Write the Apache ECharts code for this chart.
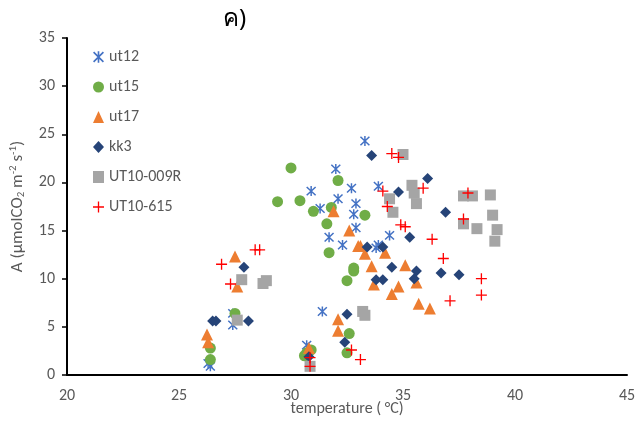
<!DOCTYPE html>
<html>
<head>
<meta charset="utf-8">
<script src="https://cdn.jsdelivr.net/npm/echarts@6/dist/echarts.min.js"></script>
<style>
  html, body { margin: 0; padding: 0; background: #fff; }
  #chart { width: 637px; height: 421px; }
</style>
</head>
<body>
<div id="chart"></div>
<script>
// values: [temperature, A]
const ut12 = [
  [33.3, 24.3], [32.0, 21.4], [33.9, 19.6], [32.7, 19.4], [30.9, 19.1],
  [32.1, 18.3], [32.9, 17.8], [31.3, 17.3], [32.8, 16.7], [32.9, 15.3],
  [31.7, 14.3], [34.4, 14.5], [32.3, 13.5], [33.9, 13.5], [33.8, 13.2],
  [31.4, 6.6], [27.4, 6.4], [27.4, 5.2], [30.7, 3.1], [26.3, 1.2], [26.4, 0.9]
];
const ut15 = [
  [30.0, 21.5], [32.1, 20.2], [29.4, 18.0], [30.4, 18.1], [31.0, 17.0],
  [31.8, 17.4], [31.6, 15.7], [33.3, 16.6], [31.7, 12.7], [32.8, 11.1],
  [32.8, 10.8], [32.5, 9.8], [32.6, 4.3], [32.5, 2.3], [30.7, 2.3],
  [30.9, 2.6], [30.6, 2.0], [26.4, 2.8], [26.4, 1.6], [27.5, 6.4]
];
const ut17 = [
  [31.9, 17.0], [32.6, 15.0], [33.0, 13.4], [33.1, 13.4], [33.3, 12.6],
  [34.2, 12.7], [33.6, 11.3], [35.1, 11.4], [33.7, 9.4], [34.8, 9.2],
  [34.5, 8.4], [35.6, 9.6], [35.7, 7.4], [36.2, 6.9], [32.1, 5.8],
  [32.1, 4.6], [30.8, 2.8], [26.25, 4.2], [26.3, 3.4], [27.5, 12.3], [27.6, 9.2]
];
const kk3 = [
  [33.6, 22.8], [36.1, 20.4], [34.8, 19.0], [36.9, 16.9], [35.3, 14.3],
  [33.4, 13.3], [34.1, 13.3], [34.5, 11.2], [35.6, 10.8], [36.7, 10.6],
  [37.5, 10.4], [35.5, 10.0], [33.8, 9.9], [34.1, 9.9], [32.5, 6.3],
  [32.4, 3.4], [30.8, 1.9], [27.9, 11.2], [26.5, 5.6], [26.65, 5.6], [28.1, 5.6]
];
const ut10009R = [
  [35.0, 22.9], [35.4, 19.7], [35.5, 18.9], [35.6, 17.8], [34.4, 18.3],
  [34.55, 16.9], [37.7, 18.6], [38.1, 18.6], [38.9, 18.7], [39.0, 16.6],
  [37.7, 15.7], [38.3, 15.2], [39.2, 15.1], [39.1, 13.9], [33.2, 6.6],
  [33.3, 6.2], [27.8, 9.9], [28.75, 9.5], [28.9, 9.8], [27.6, 5.7], [30.85, 0.9]
];
const ut10615 = [
  [34.5, 23.0], [34.8, 22.6], [35.9, 19.4], [34.1, 19.1], [34.3, 17.5],
  [34.9, 15.6], [35.1, 15.4], [36.3, 14.1], [37.9, 18.9], [37.7, 16.2],
  [36.8, 12.1], [38.5, 10.0], [38.5, 8.3], [37.1, 7.7], [28.4, 13.0],
  [28.6, 13.0], [26.9, 11.5], [27.3, 9.45], [32.7, 2.6], [33.1, 1.6],
  [30.85, 1.8], [30.85, 0.9]
];
const seriesNames = ['ut12', 'ut15', 'ut17', 'kk3', 'UT10-009R', 'UT10-615'];
const seriesData = [ut12, ut15, ut17, kk3, ut10009R, ut10615];
const xTicks = [20, 25, 30, 35, 40, 45];
const yTicks = [0, 5, 10, 15, 20, 25, 30, 35];

// marker looks (Excel style)
const asterisk = 'path://M8.6 0H11.4V20H8.6Z M0.6 2.6L2.6 0.6L19.4 17.4L17.4 19.4Z M17.4 0.6L19.4 2.6L2.6 19.4L0.6 17.4Z';
const plus = 'path://M8.8 0H11.2V8.8H20V11.2H11.2V20H8.8V11.2H0V8.8H8.8Z';
const looks = [
  { symbol: asterisk, size: 10, color: '#4472C4' },
  { symbol: 'circle', size: 11, color: '#70AD47' },
  { symbol: 'triangle', size: 12, color: '#ED7D31' },
  { symbol: 'diamond', size: 11, color: '#264478' },
  { symbol: 'rect', size: 11, color: '#A5A5A5' },
  { symbol: plus, size: 11, color: '#FF0000' }
];

const chart = echarts.init(document.getElementById('chart'));
const grey = '#595959';
const font = 'Carlito, "Open Sans", "Noto Sans", sans-serif';

chart.setOption({
  animation: false,
  title: {
    text: 'ค)',
    left: 218,
    top: 2,
    textStyle: { fontSize: 24, fontWeight: 'normal', color: '#000', fontFamily: 'Noto Sans, DejaVu Sans, sans-serif' }
  },
  legend: {
    orient: 'vertical',
    left: 88,
    top: 44,
    itemGap: 14,
    itemWidth: 11,
    itemHeight: 12,
    textStyle: { fontSize: 16, color: grey, fontFamily: font },
    data: seriesNames
  },
  grid: { left: 67, right: 10, top: 38, bottom: 46, containLabel: false, outerBoundsMode: 'none' },
  xAxis: {
    type: 'value',
    min: xTicks[0],
    max: xTicks[xTicks.length - 1],
    interval: 5,
    name: 'temperature ( °C)',
    nameLocation: 'middle',
    nameGap: 26,
    nameMoveOverlap: false,
    nameTextStyle: { fontSize: 16, color: grey, fontFamily: font },
    axisLine: { lineStyle: { color: '#000', width: 2 } },
    axisTick: { show: false },
    axisLabel: { fontSize: 16, color: grey, fontFamily: font, margin: 13 },
    splitLine: { show: false }
  },
  yAxis: {
    type: 'value',
    min: yTicks[0],
    max: yTicks[yTicks.length - 1],
    interval: 5,
    name: '{n|A (µmolCO}{sub|2}{n| m}{sup|-2}{n| s}{sup|-1}{n|)}',
    nameLocation: 'middle',
    nameGap: 40,
    nameMoveOverlap: false,
    nameTextStyle: {
      rich: {
        n: { fontSize: 17, color: grey, fontFamily: font },
        sub: { fontSize: 11, color: grey, fontFamily: font, verticalAlign: 'bottom', padding: [8, 0, 0, 0] },
        sup: { fontSize: 11, color: grey, fontFamily: font, verticalAlign: 'top', padding: [0, 0, 8, 0] }
      }
    },
    axisLine: { show: true, lineStyle: { color: '#000', width: 2 } },
    axisTick: { show: true, inside: false, length: 5, lineStyle: { color: '#000', width: 1.5 } },
    axisLabel: { fontSize: 16, color: grey, fontFamily: font, margin: 12 },
    splitLine: { show: false }
  },
  series: seriesNames.map((name, i) => ({
    name: name,
    type: 'scatter',
    data: seriesData[i],
    symbol: looks[i].symbol,
    symbolSize: looks[i].size,
    itemStyle: { color: looks[i].color, opacity: 1 }
  }))
});
</script>
</body>
</html>
